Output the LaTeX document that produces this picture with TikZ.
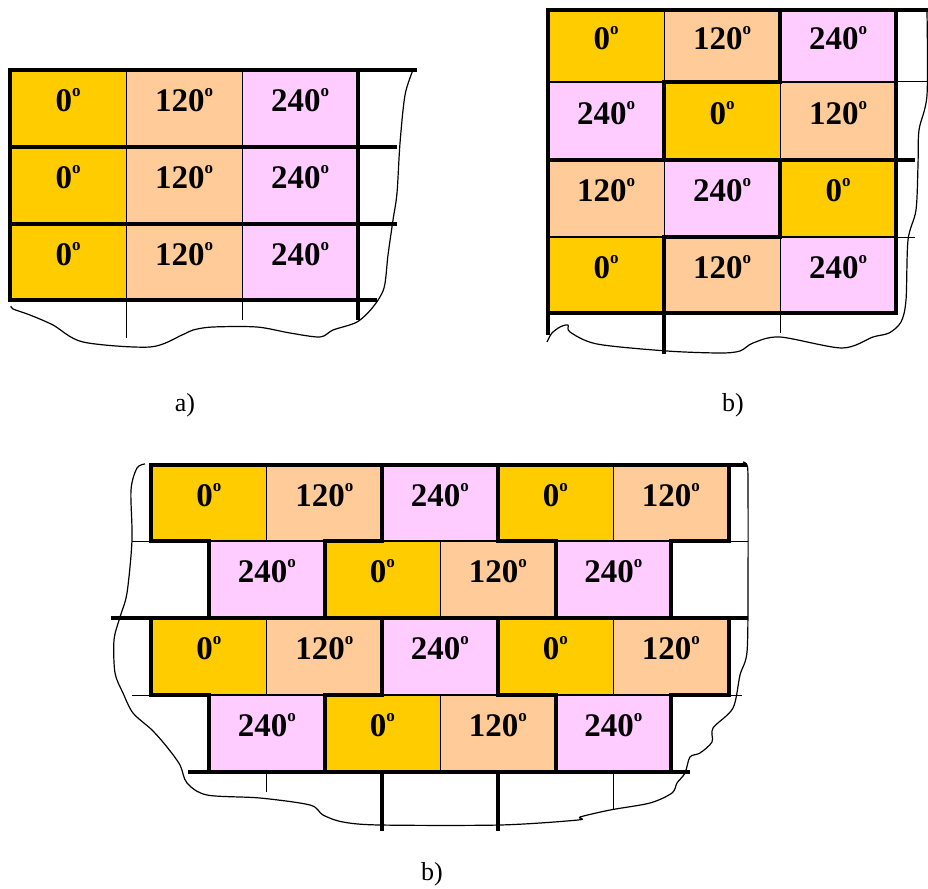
\documentclass[tikz,border=0pt]{standalone}
\usepackage{fontspec}
\setmainfont{Liberation Serif}
\definecolor{gold}{HTML}{FFCC00}
\definecolor{peach}{HTML}{FFCC99}
\definecolor{pink}{HTML}{FFCCFF}
\newcommand\dg[1]{\textbf{#1\raisebox{15pt}{\fontsize{17}{17}\selectfont o}}}
\newcommand\pcell[7]{%
  \fill[#5] (#1,#2) rectangle (#3,#4);
  \node[lab] (#7) at ({(#1+#3)/2},{#2+0.545*(#4-#2)}) {\dg{#6}};}
\tikzset{
  lab/.style={anchor=base, inner sep=0pt, font=\fontsize{33}{33}\selectfont},
  thick line/.style={line width=4pt, line cap=rect},
  mid line/.style={line width=2pt},
  thin line/.style={line width=1pt},
  outline/.style={line width=1.2pt, line join=round},
  caption/.style={font=\fontsize{26}{26}\selectfont, anchor=base}
}
\begin{document}
\begin{tikzpicture}[x=1pt,y=-1pt]
\useasboundingbox (0,0) rectangle (928,888);
% ================= a) =================
\foreach \t/\b/\r in {70/147/1,147/224/2,224/300/3}{
  \pcell{10}{\t}{126}{\b}{gold}{0}{a\r c1}
  \pcell{126}{\t}{242}{\b}{peach}{120}{a\r c2}
  \pcell{242}{\t}{358}{\b}{pink}{240}{a\r c3}
}
\draw[thin line] (126,70) -- (126,338);
\draw[thin line] (242,70) -- (242,320);
\draw[thick line] (10,300) -- (10,70) -- (415,70);
\draw[thick line] (358,70) -- (358,318);
\draw[thick line] (10,147) -- (395,147);
\draw[thick line] (10,224) -- (395,224);
\draw[thick line] (10,300) -- (375,300);
\draw[outline] plot[smooth, tension=0.5] coordinates {(413,70) (405,95) (400,143) (397,193) (393,220) (388,255) (384,288) (373,307) (357,322) (333,330) (320,337) (290,333) (257,327) (213,327) (193,330) (182,335) (150,347) (83,342) (53,325) (30,315) (13,309) (11,306)};
\node[caption] (capa) at (185,411) {a)};
% ================= b) top right =================
\pcell{548}{10}{664}{82}{gold}{0}{b1c1}
\pcell{664}{10}{780}{82}{peach}{120}{b1c2}
\pcell{780}{10}{896}{82}{pink}{240}{b1c3}
\pcell{548}{82}{664}{160}{pink}{240}{b2c1}
\pcell{664}{82}{780}{160}{gold}{0}{b2c2}
\pcell{780}{82}{896}{160}{peach}{120}{b2c3}
\pcell{548}{160}{664}{237}{peach}{120}{b3c1}
\pcell{664}{160}{780}{237}{pink}{240}{b3c2}
\pcell{780}{160}{896}{237}{gold}{0}{b3c3}
\pcell{548}{237}{664}{313}{gold}{0}{b4c1}
\pcell{664}{237}{780}{313}{peach}{120}{b4c2}
\pcell{780}{237}{896}{313}{pink}{240}{b4c3}
\draw[thin line] (664,10) -- (664,82);
\draw[thin line] (664,160) -- (664,237);
\draw[thin line] (780,82) -- (780,160);
\draw[thin line] (780,237) -- (780,333);
\draw[thin line] (896,82) -- (928,82);
\draw[thin line] (896,237) -- (915,237);
\draw[mid line] (548,82) -- (664,82) (780,82) -- (896,82);
\draw[mid line] (548,237) -- (664,237) (780,237) -- (896,237);
\draw[thick line] (548,333) -- (548,10) -- (926,10);
\draw[thick line] (896,10) -- (896,313);
\draw[thick line] (548,313) -- (896,313);
\draw[thick line] (548,160) -- (913,160);
\draw[thick line] (664,82) -- (780,82);
\draw[thick line] (664,237) -- (780,237);
\draw[thick line] (780,10) -- (780,82);
\draw[thick line] (780,160) -- (780,237);
\draw[thick line] (664,82) -- (664,160);
\draw[thick line] (664,237) -- (664,352);
\draw[outline] plot[smooth, tension=0.5] coordinates {(927,12) (927,95) (919,130) (918,165) (916,210) (908,240) (906,300) (901,322) (889,333) (873,337) (842,348) (780,337) (753,343) (740,351) (720,353) (667,351) (597,344) (570,332) (568,325) (560,327) (552,333) (548,340) (547,342)};
\node[caption] (capb) at (733,411) {b)};
% ================= c) bottom =================
\foreach \t/\b/\r in {465/541/1,618/695/3}{
  \pcell{151}{\t}{266.5}{\b}{gold}{0}{c\r c1}
  \pcell{266.5}{\t}{382}{\b}{peach}{120}{c\r c2}
  \pcell{382}{\t}{497.5}{\b}{pink}{240}{c\r c3}
  \pcell{497.5}{\t}{613}{\b}{gold}{0}{c\r c4}
  \pcell{613}{\t}{728.5}{\b}{peach}{120}{c\r c5}
  \draw[thin line] (266.5,\t) -- (266.5,\b) (613,\t) -- (613,\b);
  \draw[thick line] (151,\t) -- (151,\b) (382,\t) -- (382,\b) (497.5,\t) -- (497.5,\b) (728.5,\t) -- (728.5,\b);
}
\foreach \t/\b/\r in {541/618/2,695/772/4}{
  \pcell{209}{\t}{324.5}{\b}{pink}{240}{c\r c1}
  \pcell{324.5}{\t}{440}{\b}{gold}{0}{c\r c2}
  \pcell{440}{\t}{555.5}{\b}{peach}{120}{c\r c3}
  \pcell{555.5}{\t}{671}{\b}{pink}{240}{c\r c4}
  \draw[thin line] (440,\t) -- (440,\b);
  \draw[thick line] (209,\t) -- (209,\b) (324.5,\t) -- (324.5,\b) (555.5,\t) -- (555.5,\b) (671,\t) -- (671,\b);
}
\foreach \y in {541,695}{
  \draw[thin line] (132,\y) -- (151,\y) (728.5,\y) -- (742,\y);
  \draw[mid line] (209,\y) -- (324.5,\y) (382,\y) -- (497.5,\y) (555.5,\y) -- (671,\y);
  \draw[thick line] (151,\y) -- (209,\y) (324.5,\y) -- (382,\y) (497.5,\y) -- (555.5,\y) (671,\y) -- (728.5,\y);
}
\draw[thin line] (728.5,541) -- (748,541);
\draw[thick line] (151,465) -- (745,465);
\draw[thick line] (113,618) -- (746,618);
\draw[thick line] (190,772) -- (688,772);
\draw[thin line] (266.5,772) -- (266.5,792);
\draw[thin line] (613,772) -- (613,810);
\draw[thick line] (382,772) -- (382,829);
\draw[thick line] (497.5,772) -- (497.5,829);
\draw[outline] plot[smooth, tension=0.5] coordinates {(145,464) (137,468) (131,490) (132,540) (127,593) (120,617) (114,640) (115,673) (123,693) (133,713) (152,730) (167,747) (180,765) (187,783) (207,795) (260,798) (310,805) (323,815) (343,822) (380,825) (500,825) (578,820) (580,817) (610,810) (650,803) (672,793) (677,783) (685,773) (690,757) (700,753) (712,742) (713,728) (733,708) (740,675) (747,652) (748,588) (748,482) (747,465) (743,462)};
\node[caption] (capc) at (432,880) {b)};
\end{tikzpicture}
\end{document}
